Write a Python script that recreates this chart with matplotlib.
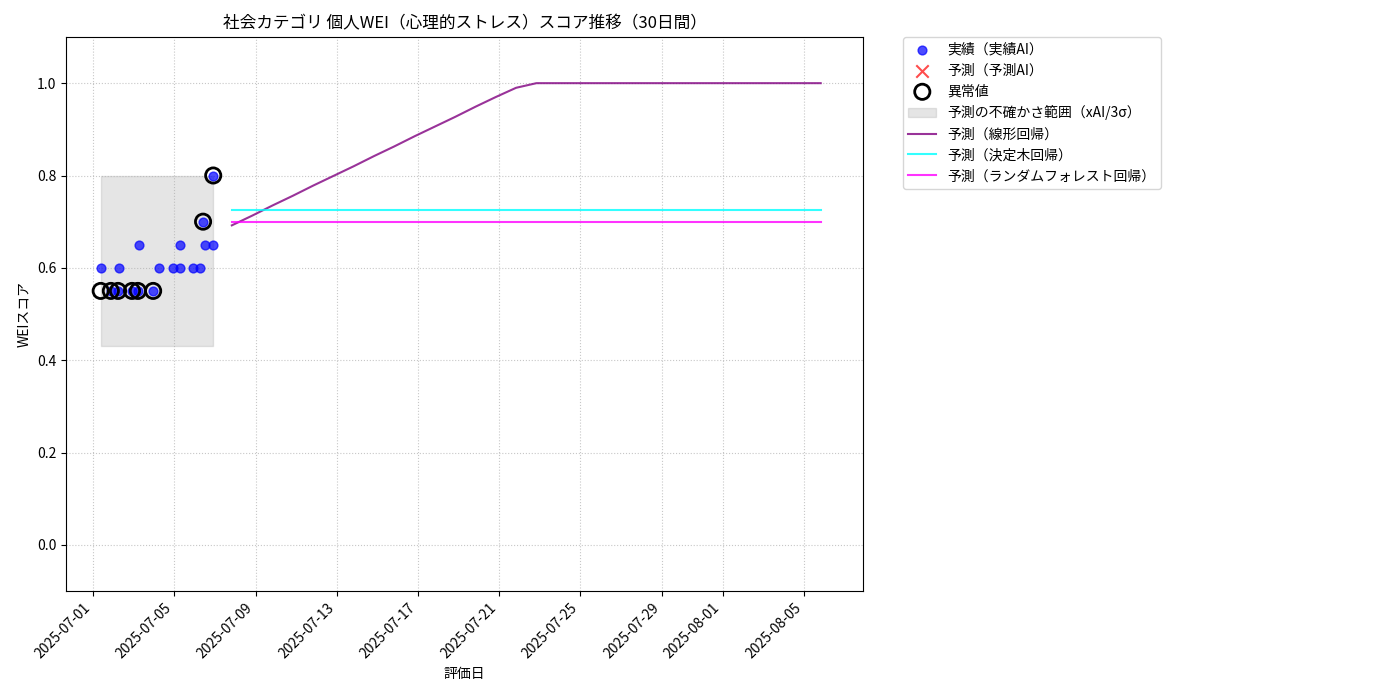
import matplotlib
matplotlib.use("Agg")
import matplotlib.pyplot as plt
import matplotlib.dates as mdates
import pandas as pd

plt.rcParams['font.family'] = ['Noto Sans CJK JP', 'DejaVu Sans']

actual_dates = pd.to_datetime([
    "2025-07-01 09:00", "2025-07-01 21:00", "2025-07-02 05:30", "2025-07-02 07:00",
    "2025-07-02 22:00", "2025-07-03 05:00", "2025-07-03 06:30", "2025-07-03 23:00",
    "2025-07-04 06:00", "2025-07-04 22:30", "2025-07-05 07:00", "2025-07-05 07:00",
    "2025-07-05 22:00", "2025-07-06 06:30", "2025-07-06 10:00", "2025-07-06 12:30",
    "2025-07-06 22:00",
])
actual_values = [0.60, 0.55, 0.55, 0.60, 0.55, 0.55, 0.65, 0.55,
                 0.60, 0.60, 0.60, 0.65, 0.60, 0.60, 0.70, 0.65, 0.65]
outlier_dates = pd.to_datetime([
    "2025-07-01 09:00", "2025-07-01 21:00", "2025-07-02 05:30",
    "2025-07-02 22:00", "2025-07-03 05:00", "2025-07-03 23:00",
    "2025-07-06 10:00", "2025-07-06 22:00",
])
outlier_values = [0.55, 0.55, 0.55, 0.55, 0.55, 0.55, 0.70, 0.80]
actual_dates = actual_dates.append(pd.to_datetime(["2025-07-06 22:00"]))
actual_values = actual_values + [0.80]

band_start, band_end = pd.Timestamp("2025-07-01 09:00"), pd.Timestamp("2025-07-06 22:00")
band_low, band_high = 0.43, 0.80

pred_dates = pd.date_range("2025-07-07 20:00", periods=30, freq="D")
pred_linear = [0.692, 0.713, 0.735, 0.756, 0.778, 0.799, 0.820, 0.842, 0.863, 0.885,
               0.906, 0.927, 0.949, 0.970, 0.990, 1.0, 1.0, 1.0, 1.0, 1.0,
               1.0, 1.0, 1.0, 1.0, 1.0, 1.0, 1.0, 1.0, 1.0, 1.0]
pred_tree = [0.725] * 30
pred_rf = [0.70] * 30

fig = plt.figure(figsize=(14, 7), dpi=100)
ax = fig.add_axes([66/1400, 1-591/700, (863-66)/1400, (591-37)/700])

ax.scatter(actual_dates, actual_values, color='blue', alpha=0.7, s=40, label='実績（実績AI）', zorder=3)
ax.scatter([], [], color='red', marker='x', s=80, alpha=0.7, label='予測（予測AI）')
ax.scatter(outlier_dates, outlier_values, facecolors='none', edgecolors='black', s=120, linewidths=2, label='異常値', zorder=4)
ax.fill_between([band_start, band_end], band_low, band_high, color='gray', alpha=0.2, label='予測の不確かさ範囲（xAI/3σ）')
ax.plot(pred_dates, pred_linear, color='purple', alpha=0.8, label='予測（線形回帰）')
ax.plot(pred_dates, pred_tree, color='cyan', alpha=0.8, label='予測（決定木回帰）')
ax.plot(pred_dates, pred_rf, color='magenta', alpha=0.8, label='予測（ランダムフォレスト回帰）')

ax.set_ylim(-0.1, 1.1)
ax.set_xlim(pd.Timestamp("2025-06-29 16:00"), pd.Timestamp("2025-08-07 22:00"))
ax.xaxis.set_major_locator(mdates.DayLocator(bymonthday=[1, 5, 9, 13, 17, 21, 25, 29]))
ax.xaxis.set_major_formatter(mdates.DateFormatter('%Y-%m-%d'))
plt.setp(ax.get_xticklabels(), rotation=45, ha='right')
ax.grid(True, linestyle=':', alpha=0.7)
ax.set_title('社会カテゴリ 個人WEI（心理的ストレス）スコア推移（30日間）', fontsize=12)
ax.set_xlabel('評価日')
ax.set_ylabel('WEIスコア')
ax.legend(loc='upper left', bbox_to_anchor=(1.05, 1.0), borderaxespad=0.)

fig.savefig('out.png', dpi=100)
